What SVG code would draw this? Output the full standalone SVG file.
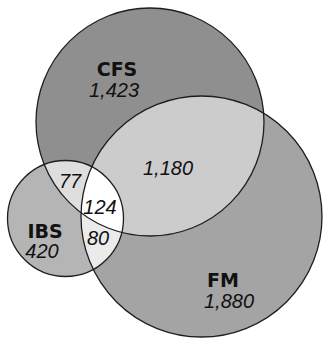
<svg xmlns="http://www.w3.org/2000/svg" width="323" height="339" viewBox="0 0 323 339">
<style>
.o{fill:none;stroke:#1e1e1e;stroke-width:1.3}
.b{font-family:"DejaVu Sans",sans-serif;font-weight:bold;font-size:19px;fill:#111;text-anchor:middle}
.n{font-family:"Liberation Sans",Arial,sans-serif;font-style:italic;font-size:20px;fill:#111;text-anchor:middle}
</style>
<defs>
<clipPath id="cC"><circle cx="150" cy="122" r="114"/></clipPath>
<clipPath id="cF"><circle cx="201.5" cy="216.5" r="120.5"/></clipPath>
<clipPath id="cI"><circle cx="65.5" cy="218.5" r="58"/></clipPath>
</defs>
<rect width="323" height="339" fill="#fff"/>
<g id="CFS">
<circle cx="150" cy="122" r="114" fill="#8f8f8f"/>
</g>
<g id="FM">
<circle cx="201.5" cy="216.5" r="120.5" fill="#a4a4a4"/>
</g>
<g id="IBS">
<circle cx="65.5" cy="218.5" r="58" fill="#b5b5b5"/>
</g>
<g id="overlaps">
<g clip-path="url(#cC)"><circle cx="201.5" cy="216.5" r="120.5" fill="#cccccc"/></g>
<g clip-path="url(#cI)"><circle cx="150" cy="122" r="114" fill="#dedede"/></g>
<g clip-path="url(#cI)"><circle cx="201.5" cy="216.5" r="120.5" fill="#ebebeb"/></g>
<g clip-path="url(#cI)"><g clip-path="url(#cC)"><circle cx="201.5" cy="216.5" r="120.5" fill="#ffffff"/></g></g>
</g>
<g id="outlines">
<circle class="o" cx="150" cy="122" r="114"/>
<circle class="o" cx="201.5" cy="216.5" r="120.5"/>
<circle class="o" cx="65.5" cy="218.5" r="58"/>
</g>
<g id="labels">
<text class="b" x="117" y="76">CFS</text>
<text class="n" x="114" y="97">1,423</text>
<text class="n" x="168" y="175">1,180</text>
<text class="n" x="70" y="188">77</text>
<text class="n" x="100" y="214">124</text>
<text class="b" x="45" y="238">IBS</text>
<text class="n" x="42" y="258">420</text>
<text class="n" x="98" y="245">80</text>
<text class="b" x="223" y="287">FM</text>
<text class="n" x="229" y="308">1,880</text>
</g>
</svg>
